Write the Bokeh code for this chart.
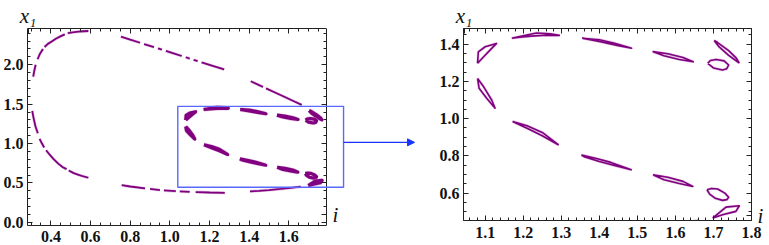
import numpy as np
from bokeh.plotting import figure
from bokeh.models import (FixedTicker, LinearAxis, Range1d, NumeralTickFormatter,
                          BoxAnnotation, Arrow, NormalHead)
from bokeh.layouts import row
from bokeh.embed import file_html
from bokeh.resources import INLINE

nan = np.nan

# ---------------- data ----------------
# outer branches (only visible in the full view)
upper_arc_x = [0.311, 0.316, 0.323, nan, 0.333, 0.345, 0.360, nan, 0.368, 0.385, 0.404, 0.425, 0.445, 0.47, nan, 0.485, 0.51, 0.538, 0.565, 0.589]
upper_arc_y = [1.85, 1.92, 2.00, nan, 2.07, 2.14, 2.20, nan, 2.225, 2.265, 2.294, 2.33, 2.357, 2.385, nan, 2.40, 2.412, 2.42, 2.425, 2.428]

lower_arc_x = [0.306, 0.313, 0.322, 0.334, nan, 0.343, 0.355, 0.366, nan, 0.376, 0.395, 0.415, 0.437, 0.46, 0.479, nan, 0.49, 0.515, 0.54, 0.565, 0.589]
lower_arc_y = [1.414, 1.32, 1.22, 1.13, nan, 1.06, 1.0, 0.95, nan, 0.915, 0.855, 0.80, 0.745, 0.70, 0.675, nan, 0.658, 0.625, 0.602, 0.582, 0.566]

mid_upper_x = [0.753, 0.80, 0.85, nan, 0.87, 0.92, nan, 0.94, 0.96, nan, 0.98, 1.03, 1.06, nan, 1.08, 1.10, nan, 1.12, 1.14, nan, 1.16, 1.22, 1.274]
mid_upper_y = [2.357, 2.319, 2.279, nan, 2.263, 2.223, nan, 2.207, 2.191, nan, 2.175, 2.135, 2.111, nan, 2.095, 2.079, nan, 2.063, 2.047, nan, 2.031, 1.983, 1.94]

right_upper_x = [1.408, 1.45, 1.47, nan, 1.485, 1.53, 1.58, 1.62, 1.665]
right_upper_y = [1.79, 1.741, 1.718, nan, 1.700, 1.648, 1.590, 1.543, 1.49]

low_band_x = [0.757, 0.80, 0.875, nan, 0.90, 0.95, nan, 0.97, 1.03, nan, 1.05, 1.10, nan, 1.13, 1.20, 1.277]
low_band_y = [0.472, 0.455, 0.43, nan, 0.424, 0.41, nan, 0.405, 0.395, nan, 0.392, 0.387, nan, 0.384, 0.379, 0.375]

low_band2_x = [1.404, 1.45, 1.50, 1.56, 1.62, 1.66]
low_band2_y = [0.393, 0.40, 0.41, 0.424, 0.44, 0.452]

# inner closed orbits (seen in the zoom)
loop_a_x = [1.080, 1.082, 1.100, 1.130, 1.117, 1.096, 1.080]
loop_a_y = [1.297, 1.359, 1.386, 1.404, 1.377, 1.332, 1.297]
loop_b_x = [1.080, 1.084, 1.104, 1.126, 1.117, 1.096, 1.080]
loop_b_y = [1.216, 1.163, 1.109, 1.056, 1.100, 1.171, 1.216]
loop_c_x = [1.17, 1.20, 1.235, 1.27, 1.295, 1.26, 1.22, 1.19, 1.17]
loop_c_y = [1.432, 1.445, 1.46, 1.455, 1.447, 1.448, 1.443, 1.437, 1.432]
loop_d_x = [1.355, 1.40, 1.44, 1.485, 1.45, 1.40, 1.355]
loop_d_y = [1.432, 1.424, 1.405, 1.378, 1.392, 1.414, 1.432]
loop_e_x = [1.54, 1.58, 1.62, 1.647, 1.61, 1.57, 1.54]
loop_e_y = [1.36, 1.348, 1.328, 1.305, 1.318, 1.338, 1.36]
loop_f_x = [1.702, 1.715, 1.74, 1.767, 1.76, 1.74, 1.71, 1.702]
loop_f_y = [1.42, 1.385, 1.34, 1.30, 1.325, 1.365, 1.41, 1.42]
loop_g_x = [1.685, 1.692, 1.707, 1.728, 1.740, 1.735, 1.724, 1.70, 1.685]
loop_g_y = [1.297, 1.312, 1.318, 1.31, 1.288, 1.268, 1.261, 1.272, 1.297]
loop_h_x = [1.172, 1.21, 1.25, 1.292, 1.25, 1.21, 1.172]
loop_h_y = [0.985, 0.962, 0.926, 0.86, 0.908, 0.948, 0.985]
loop_i_x = [1.353, 1.39, 1.43, 1.484, 1.44, 1.40, 1.36, 1.353]
loop_i_y = [0.805, 0.787, 0.765, 0.725, 0.748, 0.77, 0.796, 0.805]
loop_j_x = [1.541, 1.58, 1.62, 1.646, 1.61, 1.57, 1.541]
loop_j_y = [0.698, 0.685, 0.663, 0.636, 0.652, 0.672, 0.698]
loop_k_x = [1.683, 1.695, 1.711, 1.73, 1.740, 1.735, 1.724, 1.705, 1.69, 1.683]
loop_k_y = [0.618, 0.625, 0.622, 0.60, 0.578, 0.565, 0.561, 0.572, 0.595, 0.618]
loop_l_x = [1.698, 1.733, 1.768, 1.759, 1.724, 1.698]
loop_l_y = [0.466, 0.525, 0.532, 0.502, 0.484, 0.466]

outer_curves = [(upper_arc_x, upper_arc_y), (lower_arc_x, lower_arc_y),
                (mid_upper_x, mid_upper_y), (right_upper_x, right_upper_y),
                (low_band_x, low_band_y), (low_band2_x, low_band2_y)]
inner_loops = [(loop_a_x, loop_a_y), (loop_b_x, loop_b_y), (loop_c_x, loop_c_y),
               (loop_d_x, loop_d_y), (loop_e_x, loop_e_y), (loop_f_x, loop_f_y),
               (loop_g_x, loop_g_y), (loop_h_x, loop_h_y), (loop_i_x, loop_i_y),
               (loop_j_x, loop_j_y), (loop_k_x, loop_k_y), (loop_l_x, loop_l_y)]

# axes
full_x_range = (0.282, 1.79)
full_y_range = (-0.04, 2.46)
full_x_ticks = [0.4, 0.6, 0.8, 1.0, 1.2, 1.4, 1.6]
full_y_ticks = [0.0, 0.5, 1.0, 1.5, 2.0]
zoom_x_range = (1.043, 1.80)
zoom_y_range = (0.453, 1.484)
zoom_x_ticks = [1.1, 1.2, 1.3, 1.4, 1.5, 1.6, 1.7, 1.8]
zoom_y_ticks = [0.6, 0.8, 1.0, 1.2, 1.4]
x_title = "x₁"
i_title = "i"
# zoom box drawn on the full view, and the arrow to the zoom
box_left, box_right, box_bottom, box_top = 1.04, 1.876, 0.445, 1.472
arrow_y, arrow_end_x = 1.015, 2.234

PURPLE = "#800080"
HALO = "#c68ac6"
BLUE_BOX = "#5a68ff"
BLUE_ARROW = "#1a33ff"
FONT = "Liberation Serif"
INK = "#222222"


def minor_list(lo, hi, step):
    n = int(round((hi - lo) / step))
    return [round(lo + k * step, 4) for k in range(n + 1)]


def tick_axis(ax, ticks, minor, bounds):
    ax.ticker = FixedTicker(ticks=ticks, minor_ticks=minor)
    ax.bounds = bounds
    ax.major_tick_in = 5
    ax.major_tick_out = 0
    ax.minor_tick_in = 3
    ax.minor_tick_out = 0
    ax.axis_line_color = INK
    ax.major_tick_line_color = INK
    ax.minor_tick_line_color = INK


def style_numbers(ax, standoff):
    ax.formatter = NumeralTickFormatter(format="0.0")
    ax.major_label_text_font = FONT
    ax.major_label_text_font_style = "bold"
    ax.major_label_text_font_size = "16px"
    ax.major_label_text_color = "#111111"
    ax.major_label_standoff = standoff


def style_title_axis(ax, ticks, minor, bounds, title_at, title, standoff):
    # frame ticks on this side; the only label is the variable name at the corner
    tick_axis(ax, [title_at] + ticks, minor, bounds)
    ov = {t: "" for t in ticks}
    ov[title_at] = title
    ax.major_label_overrides = ov
    ax.major_label_text_font = FONT
    ax.major_label_text_font_style = "italic"
    ax.major_label_text_font_size = "21px"
    ax.major_label_text_color = "#111111"
    ax.major_label_standoff = standoff


def base_fig(xview, yview, fw, fh, bl, br, bt, bb, outline):
    p = figure(frame_width=fw, frame_height=fh, x_range=Range1d(*xview), y_range=Range1d(*yview),
               output_backend="svg", toolbar_location=None,
               min_border_left=bl, min_border_right=br, min_border_top=bt, min_border_bottom=bb)
    p.xgrid.visible = False
    p.ygrid.visible = False
    p.outline_line_color = outline
    p.background_fill_color = "white"
    p.border_fill_color = "white"
    return p


def draw_data(p, w_outer, w_loop):
    for xs, ys in outer_curves:
        p.line(xs, ys, line_color=HALO, line_width=w_outer + 1.2, line_alpha=0.45)
        p.line(xs, ys, line_color=PURPLE, line_width=w_outer)
    for xs, ys in inner_loops:
        p.line(xs, ys, line_color=HALO, line_width=w_loop + 1.2, line_alpha=0.45)
        p.line(xs, ys, line_color=PURPLE, line_width=w_loop, line_join="round")


# ---------------- left (full view) ----------------
# the frame extends to the right of the boxed plot area (room for the arrow);
# the box itself is drawn by axes limited with bounds
BOX_W, BOX_H = 299, 197
EXT_RIGHT = 97
x0, x1 = full_x_range
y0, y1 = full_y_range
pxx = BOX_W / (x1 - x0)
pxy = BOX_H / (y1 - y0)
xview = (x0, x1 + EXT_RIGHT / pxx)
p1 = base_fig(xview, full_y_range, BOX_W + EXT_RIGHT, BOX_H, 26, 13, 20, 18, None)

tick_axis(p1.xaxis[0], full_x_ticks, minor_list(0.3, 1.75, 0.05), full_x_range)
style_numbers(p1.xaxis[0], 5)
tick_axis(p1.yaxis[0], full_y_ticks, minor_list(0.0, 2.4, 0.1), full_y_range)
style_numbers(p1.yaxis[0], 4)
top1 = LinearAxis()
style_title_axis(top1, full_x_ticks, minor_list(0.3, 1.75, 0.05), full_x_range,
                 x0 + (x1 - x0) * 0.002, x_title, 1)
p1.add_layout(top1, "above")
# right edge of the box (inside the extended frame) carrying the i letter
right1 = LinearAxis(fixed_location=x1)
style_title_axis(right1, full_y_ticks, minor_list(0.0, 2.4, 0.1), full_y_range,
                 y0 + 11 / pxy, i_title, 6)
p1.add_layout(right1, "right")

draw_data(p1, 1.8, 3.2)
p1.add_layout(BoxAnnotation(left=box_left, right=box_right, bottom=box_bottom, top=box_top,
                            fill_alpha=0, line_alpha=1.0, line_color=BLUE_BOX, line_width=1.4))
p1.add_layout(Arrow(x_start=box_right, y_start=arrow_y, x_end=arrow_end_x, y_end=arrow_y,
                    line_color=BLUE_ARROW, line_width=1.2,
                    end=NormalHead(size=7, fill_color=BLUE_ARROW, line_color=BLUE_ARROW)))

# ---------------- right (zoom) ----------------
zx0, zx1 = zoom_x_range
zy0, zy1 = zoom_y_range
p2 = base_fig(zoom_x_range, zoom_y_range, 288, 192, 25, 20, 18, 26, INK)
tick_axis(p2.xaxis[0], zoom_x_ticks, minor_list(1.06, 1.8, 0.02), zoom_x_range)
style_numbers(p2.xaxis[0], 6)
tick_axis(p2.yaxis[0], zoom_y_ticks, minor_list(0.5, 1.45, 0.05), zoom_y_range)
style_numbers(p2.yaxis[0], 4)
top2 = LinearAxis()
style_title_axis(top2, zoom_x_ticks, minor_list(1.06, 1.8, 0.02), zoom_x_range,
                 zx0 + (zx1 - zx0) * 0.002, x_title, 1)
p2.add_layout(top2, "above")
right2 = LinearAxis()
style_title_axis(right2, zoom_y_ticks, minor_list(0.5, 1.45, 0.05), zoom_y_range,
                 zy0 + (zy1 - zy0) * 0.025, i_title, 6)
p2.add_layout(right2, "right")
draw_data(p2, 2.0, 1.6)

layout = row(p1, p2)
open("out.html", "w").write(file_html(layout, INLINE))
